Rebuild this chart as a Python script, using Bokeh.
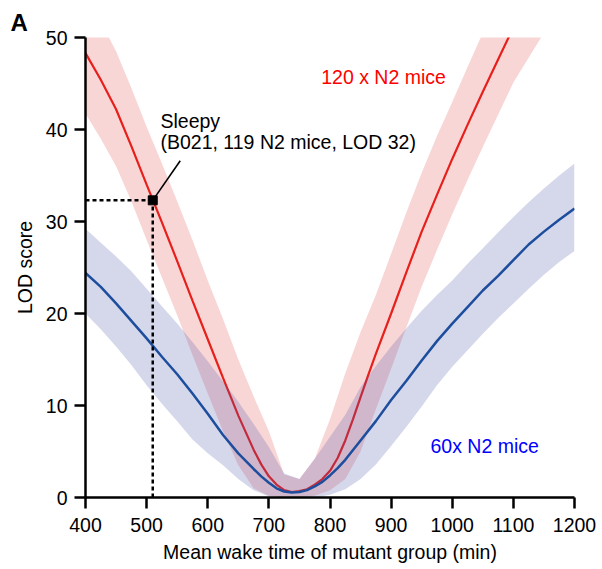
from bokeh.plotting import figure
from bokeh.models import Range1d, Label, FixedTicker
from bokeh.embed import file_html
from bokeh.resources import INLINE

# ---- data ----
# curves (LOD score vs mean wake time)
x_red = [400, 425, 450, 475, 500, 525, 550, 575, 600, 625, 650, 675, 687.5, 700, 712.5, 725, 737.5,
         750, 762.5, 775, 787.5, 800, 812.5, 825, 837.5, 850, 862.5, 875, 900, 925, 950, 975, 1000,
         1025, 1050, 1075, 1100, 1125, 1150]
red_lod = [48.3, 45.4, 42.2, 38.2, 34.0, 29.9, 25.7, 21.4, 17.2, 13.0, 8.9, 5.2, 3.6, 2.3, 1.4, 0.8, 0.6,
           0.7, 0.9, 1.4, 2.0, 2.9, 4.3, 6.2, 8.5, 10.9, 13.3, 15.6, 20.0, 24.5, 28.9, 32.9, 36.8,
           40.5, 44.1, 47.6, 51.1, 54.5, 58.0]

x_blue = [400, 425, 450, 475, 500, 525, 550, 575, 600, 625, 650, 675, 687.5, 700, 712.5, 725, 737.5,
          750, 762.5, 775, 787.5, 800, 812.5, 825, 850, 875, 900, 925, 950, 975, 1000, 1025, 1050,
          1075, 1100, 1125, 1150, 1175, 1200]
blue_lod = [24.4, 22.9, 21.1, 19.2, 17.3, 15.3, 13.4, 11.3, 9.1, 6.8, 4.8, 3.1, 2.3, 1.6, 1.0, 0.65, 0.55,
            0.6, 0.8, 1.2, 1.7, 2.4, 3.2, 4.1, 6.2, 8.3, 10.6, 12.7, 14.9, 17.0, 18.9, 20.7, 22.5,
            24.1, 25.8, 27.5, 28.9, 30.2, 31.4]

# confidence bands
x_red_band = [400, 425, 450, 475, 500, 525, 550, 575, 600, 625, 650, 675, 700, 725, 750, 775,
              800, 825, 850, 875, 900, 925, 950, 975, 1000, 1025, 1050, 1075, 1100, 1125, 1150]
red_upper = [54.5, 51.7, 48.5, 44.5, 40.3, 36.3, 32.2, 28.0, 23.6, 19.4, 15.0, 11.0, 7.2, 2.5, 2.0, 4.2,
             8.5, 13.5, 18.0, 22.0, 26.5, 31.0, 35.3, 39.3, 43.0, 46.8, 50.5, 54.0, 57.5, 61.0, 64.0]
red_lower = [41.7, 39.0, 36.0, 32.2, 28.0, 23.9, 19.8, 15.5, 11.3, 7.2, 3.5, 1.0, 0.2, 0.0, 0.0, 0.2,
             0.8, 2.0, 5.0, 9.6, 14.0, 18.5, 22.9, 26.9, 30.8, 34.5, 38.1, 41.6, 45.1, 47.8, 50.5]

x_blue_band = [400, 425, 450, 475, 500, 525, 550, 575, 600, 625, 650, 675, 700, 725, 750, 775, 800,
               825, 850, 875, 900, 925, 950, 975, 1000, 1025, 1050, 1075, 1100, 1125, 1150, 1175, 1200]
blue_upper = [29.2, 27.7, 26.2, 24.6, 22.7, 20.8, 18.9, 16.9, 14.8, 12.6, 10.4, 8.0, 5.5, 2.6, 2.0, 4.2, 6.6,
              9.0, 12.0, 14.3, 16.4, 18.4, 20.3, 22.0, 23.6, 25.4, 27.1, 28.8, 30.5, 32.1, 33.6, 35.0, 36.3]
blue_lower = [20.0, 18.3, 16.4, 14.4, 12.2, 10.2, 8.3, 6.3, 4.8, 3.5, 2.0, 0.8, 0.1, 0.0, 0.0, 0.0, 0.3,
              0.9, 2.0, 3.6, 5.6, 7.7, 9.9, 12.2, 14.2, 16.0, 17.8, 19.5, 21.1, 22.7, 24.2, 25.6, 26.8]

x_ticks = [400, 500, 600, 700, 800, 900, 1000, 1100, 1200]
y_ticks = [0, 10, 20, 30, 40, 50]

sleepy_x = 510
sleepy_lod = 32.3
sleepy_label_anchor = (555, 36.6)

FONT = "Liberation Sans"
FS = "19.5px"

p = figure(width=600, height=567, output_backend="svg", toolbar_location=None,
           x_range=Range1d(400, 1200), y_range=Range1d(0, 50),
           min_border_left=85, min_border_right=26, min_border_top=37, min_border_bottom=70)
p.outline_line_color = None
p.grid.visible = False
p.background_fill_color = "white"
p.border_fill_color = "white"

p.title.text = "A"
p.title.text_font = FONT
p.title.text_font_size = "24px"
p.title.text_font_style = "bold"
p.title.text_color = "black"
p.title.align = "left"
p.title.offset = -75
p.title.standoff = 4

for axes in (p.xaxis, p.yaxis):
    axes.visible = True
    axes.axis_line_width = 2.5
    axes.axis_line_color = "black"
    axes.axis_line_alpha = 1.0
    axes.major_tick_line_width = 2.5
    axes.major_tick_line_color = "black"
    axes.major_tick_out = 11
    axes.major_tick_in = 0
    axes.minor_tick_line_color = None
    axes.major_label_text_font = FONT
    axes.major_label_text_font_size = FS
    axes.major_label_text_color = "black"
    axes.axis_label_text_font = FONT
    axes.axis_label_text_font_size = FS
    axes.axis_label_text_font_style = "normal"
    axes.axis_label_text_color = "black"

p.xaxis.ticker = FixedTicker(ticks=x_ticks)
p.yaxis.ticker = FixedTicker(ticks=y_ticks)
p.xaxis.major_label_standoff = 9
p.yaxis.major_label_standoff = 7

p.yaxis.axis_label = "LOD score"
p.yaxis.axis_label_standoff = 7
p.xaxis.axis_label = "Mean wake time of mutant group (min)"
p.xaxis.axis_label_standoff = 6

# bands and lines
p.varea(x=x_red_band, y1=red_lower, y2=red_upper, fill_color="#e03030", fill_alpha=0.2)
p.line(x_red, red_lod, line_color="#e8201c", line_width=2.2)
p.varea(x=x_blue_band, y1=blue_lower, y2=blue_upper, fill_color="#4a52a8", fill_alpha=0.23)
p.line(x_blue, blue_lod, line_color="#1d4e9e", line_width=2.5)

# Sleepy marker and guides
p.segment(x0=[400], y0=[sleepy_lod], x1=[sleepy_x], y1=[sleepy_lod],
          line_color="black", line_width=2.5, line_dash="4 3")
p.segment(x0=[sleepy_x], y0=[0], x1=[sleepy_x], y1=[sleepy_lod],
          line_color="black", line_width=2.5, line_dash="4 3")
p.segment(x0=[sleepy_x], y0=[sleepy_lod], x1=[sleepy_label_anchor[0]], y1=[sleepy_label_anchor[1]],
          line_color="black", line_width=1.6)
p.scatter([sleepy_x], [sleepy_lod], marker="square", size=9, fill_color="black", line_color="black")

def lab(x, y, text, color="black", size=FS, style="normal", align="left"):
    p.add_layout(Label(x=x, y=y, text=text, text_color=color, text_font=FONT,
                       text_font_size=size, text_font_style=style,
                       text_align=align, text_baseline="alphabetic"))

lab(522.7, 40.9, "Sleepy")
lab(522.7, 38.6, "(B021, 119 N2 mice, LOD 32)")
lab(785.6, 45.7, "120 x N2 mice", color="#ff0000")
lab(964.4, 5.6, "60x N2 mice", color="#0000ff")

open("out.html", "w").write(file_html(p, INLINE))
